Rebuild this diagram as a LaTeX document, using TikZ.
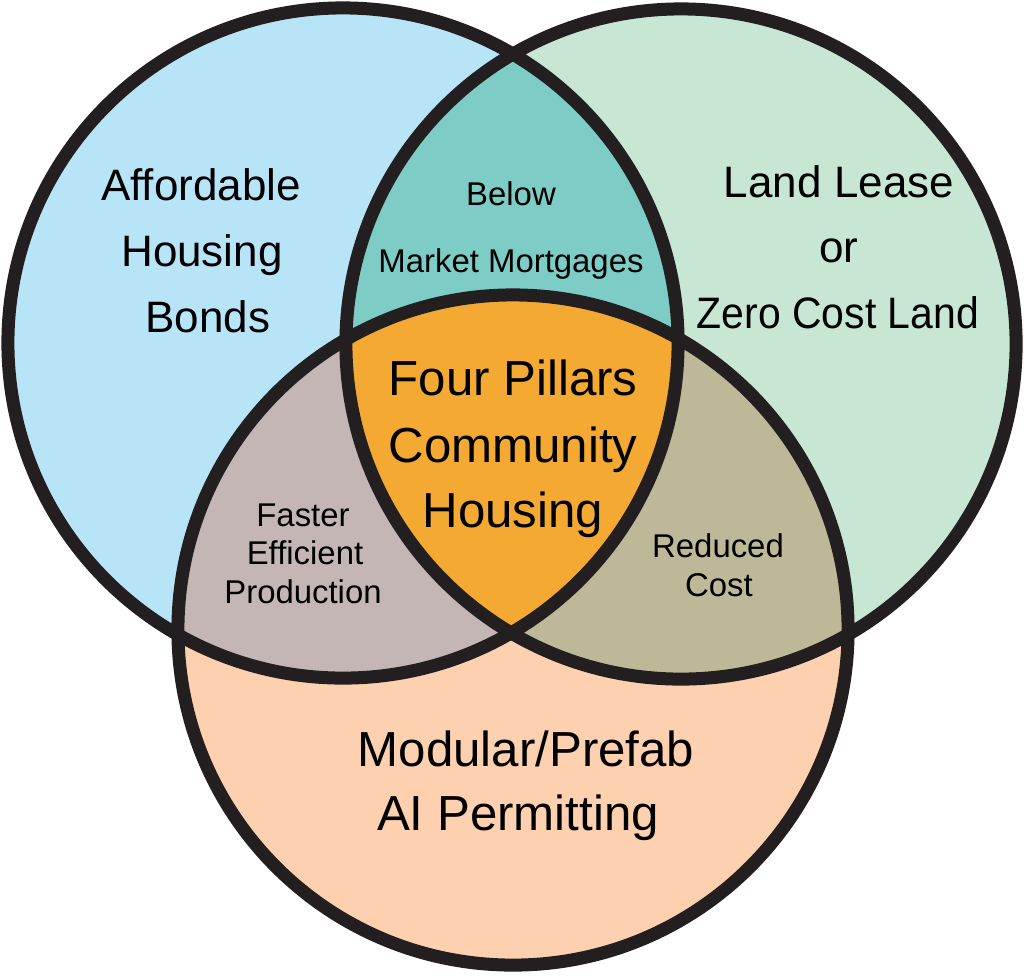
\documentclass[tikz,border=0pt]{standalone}
\usepackage{fontspec}
\setmainfont{Liberation Sans}
\definecolor{cblue}{HTML}{B8E4F8}
\definecolor{cgreen}{HTML}{C8E6D4}
\definecolor{cpeach}{HTML}{FDD0B0}
\definecolor{cteal}{HTML}{7DCDC6}
\definecolor{cmauve}{HTML}{C4B6B4}
\definecolor{colive}{HTML}{BCB898}
\definecolor{corange}{HTML}{F3A932}
\definecolor{cink}{HTML}{231F20}
\begin{document}
\begin{tikzpicture}[x=0.025cm,y=-0.025cm,
  ring/.style={draw=cink,line width=9.25pt},
  bigtxt/.style={font=\fontsize{31.3}{38}\selectfont,anchor=base,inner sep=0pt},
  midtxt/.style={font=\fontsize{35}{42}\selectfont,anchor=base,inner sep=0pt},
  smalltxt/.style={font=\fontsize{23.4}{28}\selectfont,anchor=base,inner sep=0pt}]
\useasboundingbox (0,0) rectangle (1024,976);
\def\rr{8.375cm}
\coordinate (cL) at (343,343);
\coordinate (cR) at (681,344);
\coordinate (cB) at (513,630);
% base fills
\fill[cblue] (cL) circle[radius=\rr];
\fill[cgreen] (cR) circle[radius=\rr];
\fill[cpeach] (cB) circle[radius=\rr];
% pairwise intersections
\begin{scope}
  \clip (cL) circle[radius=\rr];
  \fill[cteal] (cR) circle[radius=\rr];
  \fill[cmauve] (cB) circle[radius=\rr];
\end{scope}
\begin{scope}
  \clip (cR) circle[radius=\rr];
  \fill[colive] (cB) circle[radius=\rr];
\end{scope}
% triple intersection
\begin{scope}
  \clip (cL) circle[radius=\rr];
  \clip (cR) circle[radius=\rr];
  \fill[corange] (cB) circle[radius=\rr];
\end{scope}
% outlines
\draw[ring] (cL) circle[radius=\rr];
\draw[ring] (cR) circle[radius=\rr];
\draw[ring] (cB) circle[radius=\rr];
% texts
\node[bigtxt] (aff1) at (201,200) {Affordable};
\node[bigtxt] (aff2) at (202,266) {Housing};
\node[bigtxt] (aff3) at (208,332) {Bonds};
\node[smalltxt] (bel1) at (511,205) {Below};
\node[smalltxt] (bel2) at (511,272) {Market Mortgages};
\node[bigtxt] (land1) at (839,197) {Land Lease};
\node[bigtxt] (land2) at (839,262) {or};
\node[bigtxt] (land3) at (838,328) {\scalebox{0.93}[1]{Zero Cost Land}};
\node[midtxt] (four1) at (513,395) {Four Pillars};
\node[midtxt] (four2) at (513,462) {Community};
\node[midtxt] (four3) at (513,527) {Housing};
\node[smalltxt] (fast1) at (303,526) {Faster};
\node[smalltxt] (fast2) at (305,564) {Efficient};
\node[smalltxt] (fast3) at (303,603) {Production};
\node[smalltxt] (red1) at (718,557) {Reduced};
\node[smalltxt] (red2) at (719,596) {Cost};
\node[midtxt] (mod1) at (526,766) {Modular/Prefab};
\node[midtxt] (mod2) at (518,830) {AI Permitting};
\end{tikzpicture}
\end{document}
